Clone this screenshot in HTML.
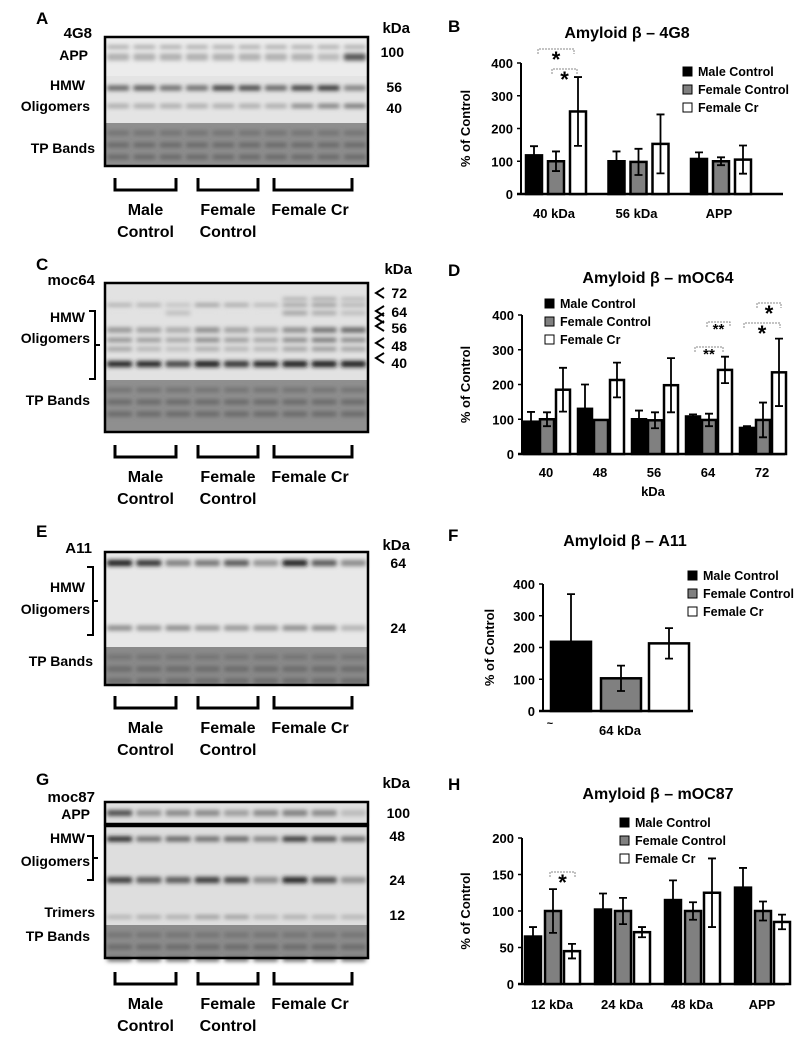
<!DOCTYPE html>
<html><head><meta charset="utf-8"><style>
html,body{margin:0;padding:0;background:#fff}
svg{display:block;font-family:"Liberation Sans",Arial,sans-serif;font-weight:bold}
</style></head><body>
<svg id="fig" width="798" height="1045" viewBox="0 0 798 1045" xmlns="http://www.w3.org/2000/svg">
<defs><filter id="blur" x="-20%" y="-200%" width="140%" height="500%"><feGaussianBlur stdDeviation="2"/></filter></defs>
<g id="blots"></g>
<g id="charts"></g>
</svg>
<script>
// ===== Chart B data =====
const bCats = ["40 kDa","56 kDa","APP"];
const bMale = [118,100,107];
const bFem = [100,98,100];
const bCr = [252,153,105];
const bMaleErr = [28,30,20];
const bFemErr = [30,40,12];
const bCrErr = [105,90,43];
const bTicks = [0,100,200,300,400];
// ===== Chart D data =====
const dCats = ["40","48","56","64","72"];
const dMale = [93,130,100,108,75];
const dFem = [100,98,97,98,98];
const dCr = [185,213,198,242,235];
const dMaleErr = [28,70,25,6,5];
const dFemErr = [20,0,23,18,50];
const dCrErr = [63,50,78,38,97];
const dTicks = [0,100,200,300,400];
// ===== Chart F data =====
const fCats = ["64 kDa"];
const fMale = [218];
const fFem = [103];
const fCr = [213];
const fMaleErr = [150];
const fFemErr = [40];
const fCrErr = [48];
const fTicks = [0,100,200,300,400];
// ===== Chart H data =====
const hCats = ["12 kDa","24 kDa","48 kDa","APP"];
const hMale = [65,102,115,132];
const hFem = [100,100,100,100];
const hCr = [45,71,125,85];
const hMaleErr = [13,22,27,27];
const hFemErr = [30,18,12,13];
const hCrErr = [10,7,47,10];
const hTicks = [0,50,100,150,200];
const legendLabels = ["Male Control","Female Control","Female Cr"];

const NS="http://www.w3.org/2000/svg";
function mk(parent,tag,attrs,text){const e=document.createElementNS(NS,tag);for(const k in attrs)e.setAttribute(k,attrs[k]);if(text!==undefined)e.textContent=text;parent.appendChild(e);return e;}
const fills=["#000","#808080","#fff"];

function chart(c){
  const g=mk(document.getElementById('charts'),'g',{});
  
  
  const y=v=>c.y0-(v-c.tMin)/(c.tMax-c.tMin)*(c.y0-c.yTop);
  const L=mk(g,'text',{x:c.lx,y:c.ly,'font-size':17},c.letter);
  
  
  const T=mk(g,'text',{x:c.tx,y:c.ty,'font-size':16,'text-anchor':'middle'},c.title);
  
  
  const ax=mk(g,'line',{x1:c.ax,y1:c.yTop,x2:c.ax,y2:c.y0,stroke:'#000','stroke-width':2});
  
  
  const bx=mk(g,'line',{x1:c.ax-4,y1:c.y0,x2:c.axEnd,y2:c.y0,stroke:'#000','stroke-width':2.5});
  
  
  c.ticks.forEach(t=>{
    const tl=mk(g,'line',{x1:c.ax-4,y1:y(t),x2:c.ax,y2:y(t),stroke:'#000','stroke-width':1.5});
    
    
    const tt=mk(g,'text',{x:c.ax-8,y:y(t)+5,'font-size':13,'text-anchor':'end'},t);
    
    
  });
  const yl=mk(g,'text',{x:0,y:0,'font-size':13,'text-anchor':'middle',transform:`translate(${c.ylx},${(c.yTop+c.y0)/2}) rotate(-90)`},'% of Control');
  
  
  const series=[c.m,c.f,c.cr], errs=[c.me,c.fe,c.ce];
  c.cats.forEach((cat,i)=>{
    const gx=c.gStart+i*c.gStep;
    series.forEach((s,k)=>{
      const bxp=gx+c.off[k], top=y(s[i]);
      const r=mk(g,'rect',{x:bxp+1,y:top,width:c.bw-2,height:c.y0-top,fill:fills[k],stroke:'#000','stroke-width':2.5});
      
      
      const cx=bxp+c.bw/2, e=errs[k][i];
      const el=mk(g,'path',{d:`M${cx} ${top}V${y(s[i]+e)}M${cx-4} ${y(s[i]+e)}H${cx+4}M${cx} ${top}V${y(s[i]-e)}M${cx-4} ${y(s[i]-e)}H${cx+4}`,stroke:'#000','stroke-width':1.8,fill:'none'});
      
      
    });
    const lab=mk(g,'text',{x:c.catX?c.catX:gx+c.labOff,y:c.labY,'font-size':13,'text-anchor':'middle'},cat);
    
    
  });
  legendLabels.forEach((t,k)=>{
    const sq=mk(g,'rect',{x:c.legX,y:c.legY+k*18-9,width:9,height:9,fill:fills[k],stroke:'#000','stroke-width':1});
    
    
    const lt=mk(g,'text',{x:c.legX+15,y:c.legY+k*18,'font-size':12.5},t);
    
    
  });
  (c.sig||[]).forEach(s=>{
    const p=mk(g,'path',{d:`M${s[0]} ${s[2]+5}V${s[2]}H${s[1]}V${s[2]+5}`,stroke:'#888','stroke-width':1,'stroke-dasharray':'2,1',fill:'none'});
    
    
    const st=mk(g,'text',{x:(s[0]+s[1])/2,y:s[2]+(s[3]=='**'?12:18),'font-size':s[3]=='**'?15:22,'text-anchor':'middle'},s[3]);
    
    
  });
  return g;
}

chart({name:'chart-4g8',letter:'B',lx:448,ly:32,title:'Amyloid β – 4G8',tx:627,ty:38,ax:521,axEnd:783,y0:194,yTop:63,tMin:0,tMax:400,ticks:bTicks,ylx:470,
  cats:bCats,m:bMale,f:bFem,cr:bCr,me:bMaleErr,fe:bFemErr,ce:bCrErr,gStart:525,gStep:82.5,off:[0,22,44],bw:18,labOff:29,labY:218,
  legX:683,legY:76,sig:[[538,574,49,'*'],[552,577,69,'*']]});
const gD=chart({name:'chart-moc64',letter:'D',lx:448,ly:276,title:'Amyloid β – mOC64',tx:658,ty:283,ax:522,axEnd:785,y0:454,yTop:315,tMin:0,tMax:400,ticks:dTicks,ylx:470,
  cats:dCats,m:dMale,f:dFem,cr:dCr,me:dMaleErr,fe:dFemErr,ce:dCrErr,gStart:523,gStep:54,off:[0,16,32],bw:16,labOff:23,labY:477,
  legX:545,legY:308,sig:[[695,723,347,'**'],[707,730,322,'**'],[744,780,323,'*'],[757,781,303,'*']]});
{const kt=mk(gD,'text',{x:653,y:496,'font-size':13,'text-anchor':'middle'},'kDa');

}
const gF=chart({name:'chart-a11',letter:'F',lx:448,ly:541,title:'Amyloid β – A11',tx:625,ty:546,ax:543,axEnd:693,y0:711,yTop:584,tMin:0,tMax:400,ticks:fTicks,ylx:494,
  cats:fCats,m:fMale,f:fFem,cr:fCr,me:fMaleErr,fe:fFemErr,ce:fCrErr,gStart:550,gStep:0,off:[0,50,98],bw:42,catX:620,labY:735,
  legX:688,legY:580});
{const tl=mk(gF,'text',{x:550,y:727,'font-size':11,'text-anchor':'middle'},'~');

}
chart({name:'chart-moc87',letter:'H',lx:448,ly:790,title:'Amyloid β – mOC87',tx:658,ty:799,ax:522,axEnd:785,y0:984,yTop:838,tMin:0,tMax:200,ticks:hTicks,ylx:470,
  cats:hCats,m:hMale,f:hFem,cr:hCr,me:hMaleErr,fe:hFemErr,ce:hCrErr,gStart:524,gStep:70,off:[0,20,39],bw:18,labOff:28,labY:1009,
  legX:620,legY:827,sig:[[550,575,872,'*']]});

// ===== Blots (decorative) =====
function blot(b){
  const g=mk(document.getElementById('blots'),'g',{});
  
  
  const L=mk(g,'text',{x:36,y:b.ly,'font-size':17},b.letter);
  
  
  b.regions.forEach(r=>{
    const rr=mk(g,'rect',{x:105,y:r[0],width:263,height:r[1]-r[0],fill:r[2]});
    
    
  });
  const n=b.lanes, lw=263/n;
  b.bands.forEach(bd=>{
    for(let i=0;i<n;i++){
      const inten=bd[2][i];
      const c=Math.round(225-inten*200);
      const e=mk(g,'rect',{x:105+i*lw+2,y:bd[0]-bd[1]/2,width:lw-4,height:bd[1],rx:2,fill:`rgb(${c},${c},${c})`,filter:'url(#blur)'});
      
      
    }
  });
  (b.boxes||[[b.top,b.bot]]).forEach(bx=>{
    const r=mk(g,'rect',{x:105,y:bx[0],width:263,height:bx[1]-bx[0],fill:'none',stroke:'#000','stroke-width':2.5});
    
    
  });
  b.texts.forEach(t=>{
    const e=mk(g,'text',{x:t[0],y:t[1],'font-size':t[3]||14,'text-anchor':t[4]||'end'},t[2]);
    
    
  });
  if(b.brace){const [x,y1,y2]=b.brace;
    const p=mk(g,'path',{d:`M${x-6} ${y1}H${x}V${y2}H${x-6}M${x} ${(y1+y2)/2}H${x+5}`,stroke:'#000','stroke-width':2,fill:'none'});
    
    }
  const gb=[[115,176],[198,258],[274,352]];
  const names=[["Male","Control"],["Female","Control"],["Female Cr",""]];
  gb.forEach((q,i)=>{
    const p=mk(g,'path',{d:`M${q[0]} ${b.brY}V${b.brY+12}H${q[1]}V${b.brY}`,stroke:'#000','stroke-width':3,fill:'none'});
    
    
    names[i].forEach((s,j)=>{if(!s)return;
      const t=mk(g,'text',{x:(q[0]+q[1])/2+(i==2?-3:0),y:b.brY+37+j*22,'font-size':16,'text-anchor':'middle'},s);
      
      });
  });
  if(b.arrows)b.arrows.forEach(a=>{
    const p=mk(g,'path',{d:`M${a[0]+8} ${a[1]-5}L${a[0]} ${a[1]}L${a[0]+8} ${a[1]+5}`,stroke:'#000','stroke-width':2,fill:'none'});
    
    
  });
}
const TP=(y0,n)=>[[y0+10,5,Array(n).fill(0.55)],[y0+22,5,Array(n).fill(0.6)],[y0+34,5,Array(n).fill(0.6)]];
blot({name:'blot-4g8',letter:'A',ly:24,top:37,bot:166,lanes:10,brY:178,
  regions:[[37,76,'#ececec'],[76,123,'#e4e4e4'],[123,166,'#8e8e8e']],
  bands:[[47,3,Array(10).fill(0.35)],[57,7,[.25,.25,.25,.25,.25,.25,.25,.25,.2,.7]],[88,5,[.65,.7,.6,.6,.85,.8,.65,.85,.9,.5]],[106,4,[.3,.3,.3,.3,.3,.3,.3,.5,.55,.6]]].concat(TP(123,10)),
  texts:[[92,38,'4G8',15,'end'],[88,60,'APP'],[85,90,'HMW'],[90,111,'Oligomers'],[95,153,'TP Bands'],[410,33,'kDa',15],[404,57,'100'],[402,92,'56'],[402,113,'40']]});
blot({name:'blot-moc64',letter:'C',ly:270,top:283,bot:432,lanes:9,brY:445,
  regions:[[283,380,'#e2e2e2'],[380,432,'#8f8f8f']],
  bands:[[299,3,[0,0,0,0,0,0,.3,.35,.25]],[305,3,[.3,.3,.2,.4,.35,.25,.4,.45,.3]],[313,4,[0,0,.2,0,0,0,.35,.3,.2]],[330,5,[.4,.35,.3,.45,.35,.3,.45,.6,.65]],[340,4,[.45,.4,.35,.5,.4,.35,.5,.6,.5]],[349,4,[.35,.25,.2,.3,.25,.25,.35,.4,.35]],[364,6,[.95,.95,.8,1,.9,.95,1,1,1]]].concat(TP(380,9)),
  texts:[[95,285,'moc64',15],[85,322,'HMW'],[90,343,'Oligomers'],[90,405,'TP Bands'],[412,274,'kDa',15],[407,298,'72'],[407,317,'64'],[407,333,'56'],[407,351,'48'],[407,368,'40']],
  brace:[95,311,379],arrows:[[376,293],[376,311],[376,318],[376,326],[376,343],[376,358]]});
blot({name:'blot-a11',letter:'E',ly:537,top:552,bot:685,lanes:9,brY:696,
  regions:[[552,647,'#e8e8e8'],[647,685,'#8a8a8a']],
  bands:[[563,6,[1,.9,.5,.55,.7,.4,1,.7,.45]],[628,5,[.45,.4,.45,.4,.4,.4,.45,.45,.25]]].concat(TP(647,9)),
  texts:[[92,553,'A11',15],[85,592,'HMW'],[90,614,'Oligomers'],[93,666,'TP Bands'],[410,550,'kDa',15],[406,568,'64'],[406,633,'24']],
  brace:[93,567,635]});
blot({name:'blot-moc87',letter:'G',ly:785,top:802,bot:958,lanes:9,brY:972,boxes:[[802,824],[826,958]],
  regions:[[802,824,'#e0e0e0'],[826,925,'#dedede'],[925,958,'#8c8c8c']],
  bands:[[813,6,[.75,.4,.45,.45,.35,.45,.5,.45,.2]],[839,5,[.95,.6,.65,.6,.65,.5,.9,.75,.6]],[880,6,[.85,.7,.7,.85,.8,.45,.95,.75,.4]],[917,3,[.3,.35,.35,.45,.45,.3,.35,.3,.3]]].concat(TP(925,9)),
  texts:[[95,802,'moc87',15],[90,819,'APP'],[85,843,'HMW'],[90,866,'Oligomers'],[95,917,'Trimers'],[90,941,'TP Bands'],[410,788,'kDa',15],[410,818,'100'],[405,841,'48'],[405,885,'24'],[405,920,'12']],
  brace:[93,836,880]});
</script>
</body></html>
